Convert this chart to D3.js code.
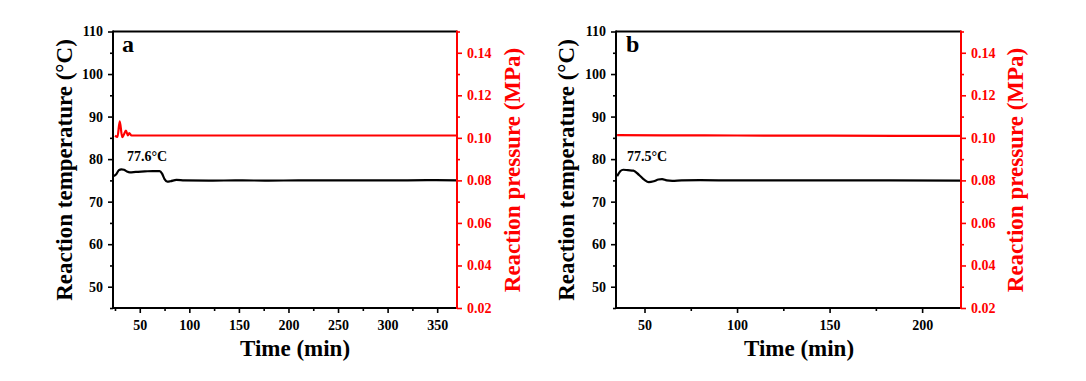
<!DOCTYPE html>
<html><head><meta charset="utf-8">
<script src="https://cdn.jsdelivr.net/npm/d3@7"></script>
<style>
body{margin:0;background:#fff}
svg text{font-family:"Liberation Serif","Times New Roman",serif;font-weight:bold}
</style>
</head><body>
<svg id="chart" width="1086" height="381"></svg>
<script>
// ---- data ----
const timeTempA  = [23.5, 26, 29, 31.5, 34, 37, 40, 46, 55, 63, 70, 72.5, 75, 77.8, 81, 87, 95, 120, 150, 180, 210, 250, 300, 340, 370];
const tempA      = [76.0, 76.4, 77.4, 77.6, 77.5, 77.1, 76.9, 77.0, 77.1, 77.2, 77.2, 76.6, 75.3, 74.7, 74.8, 75.1, 75.0, 74.95, 75.0, 74.95, 75.0, 75.0, 75.0, 75.05, 75.0];
const timePressA = [25, 27.5, 29.8, 32.3, 34, 36, 38, 39.4, 41.7, 60, 100, 150, 200, 250, 300, 370];
const pressA     = [0.1010, 0.1004, 0.1077, 0.1003, 0.1016, 0.1034, 0.1012, 0.1022, 0.1011, 0.1011, 0.1011, 0.1011, 0.1011, 0.1011, 0.1011, 0.1011];

const timeTempB  = [35.2, 37, 38.5, 41, 44, 47, 50, 52.3, 55, 57.5, 59.5, 62, 65, 70, 80, 100, 150, 221];
const tempB      = [76.0, 77.2, 77.5, 77.4, 77.3, 76.3, 75.1, 74.6, 74.8, 75.2, 75.3, 75.0, 74.9, 75.0, 75.05, 75.0, 75.0, 74.95];
const timePressB = [35.2, 60, 100, 150, 221];
const pressB     = [0.1013, 0.1012, 0.1011, 0.1010, 0.1009];

const tempTicks  = [50, 60, 70, 80, 90, 100, 110];
const tempMinor  = [45, 55, 65, 75, 85, 95, 105];
const pressTicks = [0.02, 0.04, 0.06, 0.08, 0.10, 0.12, 0.14];
const pressMinor = [0.03, 0.05, 0.07, 0.09, 0.11, 0.13, 0.15];
const timeTicksA = [50, 100, 150, 200, 250, 300, 350];
const timeMinorA = [25, 75, 125, 175, 225, 275, 325];
const timeTicksB = [50, 100, 150, 200];
const timeMinorB = [75, 125, 175];
const panelLabels = ["a", "b"];
const peakLabels  = ["77.6°C", "77.5°C"];
const xTitle = "Time (min)";
const yTitleLeft = "Reaction temperature (°C)";
const yTitleRight = "Reaction pressure (MPa)";

// ---- layout ----
const svg = d3.select("#chart");
svg.append("rect").attr("width",1086).attr("height",381).attr("fill","#fff");
const plotTop = 31.5, plotBottom = 308;
const panels = [
  {left:113, right:457, xDom:[23,370], tT:timeTempA, T:tempA, tP:timePressA, P:pressA,
   ticks:timeTicksA, minor:timeMinorA, label:panelLabels[0], peak:peakLabels[0], peakX:127, lblX:122,
   yTitleX:72, yTitleRX:520, xTitleCx:295},
  {left:616, right:961, xDom:[34.6,221], tT:timeTempB, T:tempB, tP:timePressB, P:pressB,
   ticks:timeTicksB, minor:timeMinorB, label:panelLabels[1], peak:peakLabels[1], peakX:627, lblX:626,
   yTitleX:574, yTitleRX:1023, xTitleCx:799}
];
const RED = "#ff0000";

panels.forEach(p => {
  const x = d3.scaleLinear().domain(p.xDom).range([p.left, p.right]);
  const yT = d3.scaleLinear().domain([45,110]).range([plotBottom, plotTop]);
  const yP = d3.scaleLinear().domain([0.02,0.15]).range([plotBottom, plotTop]);
  const g = svg.append("g");

  const lineT = d3.line().x((d,i)=>x(p.tT[i])).y(d=>yT(d)).curve(d3.curveMonotoneX);
  const lineP = d3.line().x((d,i)=>x(p.tP[i])).y(d=>yP(d)).curve(d3.curveMonotoneX);
  g.append("path").attr("d", lineP(p.P)).attr("fill","none").attr("stroke",RED).attr("stroke-width",2.2);
  g.append("path").attr("d", lineT(p.T)).attr("fill","none").attr("stroke","#000").attr("stroke-width",2.2);

  const styleAxis = (sel, color) => {
    sel.selectAll(".domain").remove();
    sel.selectAll("line").attr("stroke", color).attr("stroke-width", 1.6);
    sel.selectAll("text").attr("fill", color).style("font-size","14px");
  };
  g.append("g").attr("transform",`translate(${p.left},0)`)
    .call(d3.axisLeft(yT).tickValues(tempTicks).tickSize(5).tickPadding(5).tickFormat(d3.format("d")))
    .call(s=>styleAxis(s,"#000"));
  g.append("g").attr("transform",`translate(${p.left},0)`)
    .call(d3.axisLeft(yT).tickValues(tempMinor).tickSize(3).tickFormat(""))
    .call(s=>styleAxis(s,"#000"));
  g.append("g").attr("transform",`translate(${p.right},0)`)
    .call(d3.axisRight(yP).tickValues(pressTicks).tickSize(5).tickPadding(5).tickFormat(d3.format(".2f")))
    .call(s=>styleAxis(s,RED));
  g.append("g").attr("transform",`translate(${p.right},0)`)
    .call(d3.axisRight(yP).tickValues(pressMinor).tickSize(3).tickFormat(""))
    .call(s=>styleAxis(s,RED));
  g.append("g").attr("transform",`translate(0,${plotBottom})`)
    .call(d3.axisBottom(x).tickValues(p.ticks).tickSize(5).tickPadding(7).tickFormat(d3.format("d")))
    .call(s=>styleAxis(s,"#000"));
  g.append("g").attr("transform",`translate(0,${plotBottom})`)
    .call(d3.axisBottom(x).tickValues(p.minor).tickSize(3).tickFormat(""))
    .call(s=>styleAxis(s,"#000"));

  g.append("line").attr("x1",p.left).attr("x2",p.right).attr("y1",plotTop).attr("y2",plotTop).attr("stroke","#000").attr("stroke-width",2);
  g.append("line").attr("x1",p.left).attr("x2",p.right).attr("y1",plotBottom).attr("y2",plotBottom).attr("stroke","#000").attr("stroke-width",2);
  g.append("line").attr("x1",p.left).attr("x2",p.left).attr("y1",plotTop-1).attr("y2",plotBottom+1).attr("stroke","#000").attr("stroke-width",2);
  g.append("line").attr("x1",p.right).attr("x2",p.right).attr("y1",plotTop-1).attr("y2",plotBottom+1).attr("stroke",RED).attr("stroke-width",2);

  g.append("text").attr("x",p.lblX).attr("y",52).style("font-size","24px").text(p.label);
  g.append("text").attr("x",p.peakX).attr("y",161).style("font-size","14px").text(p.peak);
  g.append("text").attr("x",p.xTitleCx).attr("y",356).attr("text-anchor","middle").style("font-size","23px").text(xTitle);
  g.append("text").attr("transform",`translate(${p.yTitleX},170) rotate(-90)`).attr("text-anchor","middle")
    .style("font-size","23px").text(yTitleLeft);
  g.append("text").attr("transform",`translate(${p.yTitleRX},170) rotate(-90)`).attr("text-anchor","middle")
    .attr("fill",RED).style("font-size","23px").text(yTitleRight);
});
</script>
</body></html>
